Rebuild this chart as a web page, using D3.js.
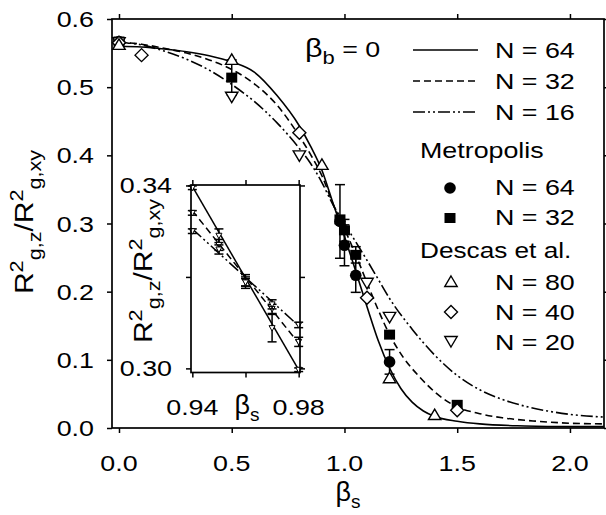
<!DOCTYPE html>
<html><head><meta charset="utf-8">
<script src="https://cdn.jsdelivr.net/npm/d3@7"></script>
<style>body{margin:0;background:#fff}</style>
</head><body><svg id="c" width="606" height="515"></svg>
<script>
// ---------- data ----------
const betaTicks = [0, 0.5, 1.0, 1.5, 2.0];
const yTicks = [0, 0.1, 0.2, 0.3, 0.4, 0.5, 0.6];

const curve64Beta = [0,0.1,0.2,0.3,0.4,0.5,0.6,0.7,0.8,0.85,0.9,0.95,1.0,1.05,1.1,1.15,1.2,1.25,1.3,1.35,1.4,1.5,1.6,1.8,2.0,2.15];
const curve64Val  = [0.560,0.559,0.556,0.552,0.546,0.537,0.522,0.488,0.443,0.413,0.378,0.329,0.281,0.230,0.178,0.128,0.088,0.058,0.038,0.025,0.017,0.010,0.006,0.003,0.002,0.002];
const curve32Beta = [0,0.1,0.2,0.3,0.4,0.5,0.6,0.7,0.8,0.85,0.9,0.95,1.0,1.05,1.1,1.15,1.2,1.26,1.33,1.4,1.5,1.6,1.7,1.85,2.0,2.15];
const curve32Val  = [0.566,0.563,0.557,0.550,0.540,0.526,0.505,0.474,0.428,0.401,0.370,0.328,0.292,0.254,0.213,0.173,0.137,0.104,0.076,0.053,0.031,0.021,0.015,0.010,0.007,0.006];
const curve16Beta = [0,0.1,0.2,0.3,0.4,0.5,0.6,0.7,0.8,0.85,0.9,0.95,1.0,1.05,1.1,1.15,1.2,1.3,1.4,1.5,1.6,1.7,1.8,1.9,2.0,2.15];
const curve16Val  = [0.566,0.562,0.553,0.541,0.525,0.504,0.479,0.448,0.410,0.388,0.360,0.327,0.300,0.273,0.246,0.218,0.190,0.145,0.107,0.077,0.056,0.042,0.032,0.025,0.020,0.016];

const metro64Beta = [0, 0.98, 1.0, 1.05, 1.2];
const metro64Val  = [0.567, 0.303, 0.268, 0.224, 0.097];
const metro64Err  = [0, 0.054, 0.030, 0.025, 0.018];
const metro32Beta = [0, 0.5, 0.98, 1.0, 1.05, 1.2, 1.5];
const metro32Val  = [0.567, 0.514, 0.306, 0.290, 0.254, 0.137, 0.034];
const metro32Err  = [0, 0.026, 0, 0.016, 0.012, 0, 0];
const descas80Beta = [0, 0.5, 0.9, 1.2, 1.4];
const descas80Val  = [0.562, 0.540, 0.386, 0.073, 0.019];
const descas40Beta = [0, 0.1, 0.8, 1.1, 1.5];
const descas40Val  = [0.565, 0.547, 0.433, 0.191, 0.026];
const descas20Beta = [0, 0.5, 0.8, 1.1, 1.2];
const descas20Val  = [0.566, 0.486, 0.400, 0.213, 0.163];

// inset
const insetBetaTicks = [0.94, 0.96, 0.98];
const insetBetaLabels = [0.94, 0.98];
const insetYTicks = [0.30, 0.32, 0.34];
const insetYLabels = [0.30, 0.34];
const insetLineBeta = [0.94, 0.98];
const insetLine64 = [0.3398, 0.2997];
const insetLine32 = [0.3345, 0.3055];
const insetLine16 = [0.3305, 0.3093];
const insetBeta = [0.94, 0.95, 0.96, 0.97, 0.98];
const inset64Val = [0.3395, 0.3290, 0.3190, 0.3088, 0.2997];
const inset64Err = [0.0004, 0.0015, 0.0015, 0.0030, 0.0004];
const inset32Val = [0.3340, 0.3270, 0.3190, 0.3130, 0.3058];
const inset32Err = [0.0005, 0.0012, 0.0010, 0.0010, 0.0010];
const inset16Val = [0.3300, 0.3260, 0.3188, 0.3140, 0.3095];
const inset16Err = [0.0005, 0.0010, 0.0008, 0.0010, 0.0006];

// ---------- drawing ----------
const FONT = "'Liberation Sans', Arial, Helvetica, sans-serif";
const SX = 1.22, FS = 22;
const svg = d3.select('#c');

function label(g, x, y, parts, opts = {}) {
  const fs = opts.fs || FS, sx = opts.sx || SX, anchor = opts.anchor || 'start';
  let tr = `translate(${x},${y})`;
  if (opts.rot) tr += ' rotate(-90)';
  tr += ` scale(${sx},1)`;
  const t = g.append('text').attr('transform', tr).attr('text-anchor', anchor)
    .attr('font-size', fs).attr('font-family', FONT).attr('fill', '#000');
  let shift = 0;
  parts.forEach(p => {
    const [s, kind, sz] = Array.isArray(p) ? p : [p, 'n'];
    let target = 0, size = sz || fs;
    if (kind === 'sub') { target = 0.32 * fs; size = sz || 0.72 * fs; }
    if (kind === 'sup') { target = -0.4 * fs; size = sz || 0.72 * fs; }
    t.append('tspan').attr('dy', target - shift).attr('font-size', size).text(s);
    shift = target;
  });
  return t;
}

// main scales
const x = d3.scaleLinear().domain([-0.031, 2.151]).range([112, 604]);
const y = d3.scaleLinear().domain([0, 0.6]).range([428, 19]);

function axes(g, xs, ys, xt, yt, x0, x1, y0, y1) {
  const mk = (ax, tr) => {
    const a = g.append('g').attr('transform', tr).call(ax);
    a.select('.domain').remove();
    a.selectAll('line').attr('stroke', '#000').attr('stroke-width', 1.5);
    a.selectAll('text').remove();
  };
  mk(d3.axisBottom(xs).tickValues(xt).tickSize(5), `translate(0,${y0})`);
  mk(d3.axisTop(xs).tickValues(xt).tickSize(5), `translate(0,${y1})`);
  mk(d3.axisLeft(ys).tickValues(yt).tickSize(5), `translate(${x0},0)`);
  mk(d3.axisRight(ys).tickValues(yt).tickSize(5), `translate(${x1},0)`);
  g.append('rect').attr('x', x0).attr('y', y1).attr('width', x1 - x0).attr('height', y0 - y1)
    .attr('fill', 'none').attr('stroke', '#000').attr('stroke-width', 1.7);
}

axes(svg, x, y, betaTicks, yTicks, 112, 604, 428, 19);

betaTicks.forEach(v => label(svg, x(v), 471, [d3.format('.1f')(v)], {anchor: 'middle'}));
yTicks.forEach(v => label(svg, 94, y(v) + 8, [d3.format('.1f')(v)], {anchor: 'end'}));

// axis titles
label(svg, 33, 222, ['R', ['2', 'sup'], ['g,z', 'sub'], '/R', ['2', 'sup'], ['g,xy', 'sub']], {rot: true, anchor: 'middle', fs: 25, sx: 1.2});
label(svg, 348, 501, [['β', 'n', 27], ['s', 'sub', 19]], {anchor: 'middle', sx: 1.0});

// curves
svg.append('clipPath').attr('id', 'clipMain').append('rect')
  .attr('x', 112).attr('y', 19).attr('width', 492).attr('height', 409);
const lineGen = (xs, ys) => d3.line().x(d => xs(d[0])).y(d => ys(d[1])).curve(d3.curveMonotoneX);
const zip = (a, b) => a.map((v, i) => [v, b[i]]);
const DASH32 = '7,4', DASH16 = '12,3,2,3,2,3';
const curves = svg.append('g').attr('clip-path', 'url(#clipMain)');
[[curve64Beta, curve64Val, null], [curve32Beta, curve32Val, DASH32], [curve16Beta, curve16Val, DASH16]]
  .forEach(([b, v, dash]) => {
    curves.append('path').attr('d', lineGen(x, y)(zip(b, v))).attr('fill', 'none')
      .attr('stroke', '#000').attr('stroke-width', 1.6).attr('stroke-dasharray', dash);
  });

// markers
const sym = {
  circle: (g, cx, cy) => g.append('circle').attr('cx', cx).attr('cy', cy).attr('r', 5.8).attr('fill', '#000'),
  square: (g, cx, cy) => g.append('rect').attr('x', cx - 5.5).attr('y', cy - 5).attr('width', 11).attr('height', 10).attr('fill', '#000'),
  up: (g, cx, cy) => g.append('path').attr('d', `M${cx},${cy - 6}L${cx + 6.2},${cy + 4.5}L${cx - 6.2},${cy + 4.5}Z`).attr('fill', '#fff').attr('stroke', '#000').attr('stroke-width', 1.4),
  down: (g, cx, cy) => g.append('path').attr('d', `M${cx},${cy + 6}L${cx + 6.2},${cy - 4.5}L${cx - 6.2},${cy - 4.5}Z`).attr('fill', '#fff').attr('stroke', '#000').attr('stroke-width', 1.4),
  diamond: (g, cx, cy) => g.append('path').attr('d', `M${cx},${cy - 6.5}L${cx + 6.5},${cy}L${cx},${cy + 6.5}L${cx - 6.5},${cy}Z`).attr('fill', '#fff').attr('stroke', '#000').attr('stroke-width', 1.4)
};
function errBars(g, xs, ys, b, v, e, cap) {
  b.forEach((bb, i) => {
    if (!e[i]) return;
    const cx = xs(bb), t = ys(v[i] + e[i]), bt = ys(v[i] - e[i]);
    g.append('line').attr('x1', cx).attr('x2', cx).attr('y1', t).attr('y2', bt).attr('stroke', '#000').attr('stroke-width', 1.5);
    [t, bt].forEach(yy => g.append('line').attr('x1', cx - cap).attr('x2', cx + cap).attr('y1', yy).attr('y2', yy).attr('stroke', '#000').attr('stroke-width', 1.5));
  });
}
const mk = svg.append('g');
errBars(mk, x, y, metro32Beta, metro32Val, metro32Err, 5);
errBars(mk, x, y, metro64Beta, metro64Val, metro64Err, 5);
metro32Beta.forEach((b, i) => sym.square(mk, x(b), y(metro32Val[i])));
metro64Beta.forEach((b, i) => sym.circle(mk, x(b), y(metro64Val[i])));
descas20Beta.forEach((b, i) => sym.down(mk, x(b), y(descas20Val[i])));
descas40Beta.forEach((b, i) => sym.diamond(mk, x(b), y(descas40Val[i])));
descas80Beta.forEach((b, i) => sym.up(mk, x(b), y(descas80Val[i])));

// legend
label(svg, 305, 57, [['β', 'n', 25], ['b', 'sub', 18], ' = 0']);
const lg = svg.append('g');
[[null, 50, 'N = 64'], [DASH32, 81, 'N = 32'], [DASH16, 112, 'N = 16']].forEach(([dash, yy, t]) => {
  lg.append('line').attr('x1', 413).attr('x2', 478).attr('y1', yy).attr('y2', yy)
    .attr('stroke', '#000').attr('stroke-width', 1.6).attr('stroke-dasharray', dash);
  label(lg, 495, yy + 8, [t]);
});
label(lg, 420, 158, ['Metropolis']);
sym.circle(lg, 450, 188); label(lg, 495, 195, ['N = 64']);
sym.square(lg, 450, 218); label(lg, 495, 225, ['N = 32']);
label(lg, 420, 258, ['Descas et al.'], {sx: 1.19});
sym.up(lg, 451, 282); label(lg, 495, 290, ['N = 80']);
sym.diamond(lg, 451, 312); label(lg, 495, 320, ['N = 40']);
sym.down(lg, 451, 341); label(lg, 495, 350, ['N = 20']);

// ---------- inset ----------
const xi = d3.scaleLinear().domain([0.9395, 0.9805]).range([191, 300]);
const yi = d3.scaleLinear().domain([0.2991, 0.3401]).range([372.5, 185]);
const ig = svg.append('g');
ig.append('rect').attr('x', 191).attr('y', 185).attr('width', 109).attr('height', 187.5).attr('fill', '#fff');
svg.append('clipPath').attr('id', 'clipIn').append('rect').attr('x', 191).attr('y', 185).attr('width', 109).attr('height', 187.5);
const il = ig.append('g').attr('clip-path', 'url(#clipIn)');
[[insetLine64, null], [insetLine32, DASH32], [insetLine16, DASH16]].forEach(([v, dash]) => {
  il.append('path').attr('d', d3.line().x(d => xi(d[0])).y(d => yi(d[1]))(zip(insetLineBeta, v)))
    .attr('fill', 'none').attr('stroke', '#000').attr('stroke-width', 1.5).attr('stroke-dasharray', dash);
});
const ip = ig.append('g');
[[inset64Val, inset64Err], [inset32Val, inset32Err], [inset16Val, inset16Err]].forEach(([v, e]) => {
  errBars(ip, xi, yi, insetBeta, v, e, 4.5);
  insetBeta.forEach((b, i) => {
    const cx = xi(b), cy = yi(v[i]);
    ip.append('path').attr('d', `M${cx},${cy + 3}L${cx + 3},${cy - 2.5}L${cx - 3},${cy - 2.5}Z`)
      .attr('fill', '#fff').attr('stroke', '#000').attr('stroke-width', 1);
  });
});
axes(ig, xi, yi, insetBetaTicks, insetYTicks, 191, 300, 372.5, 185);
insetBetaLabels.forEach(v => label(ig, xi(v), 415, [d3.format('.2f')(v)], {anchor: 'middle'}));
insetYLabels.forEach(v => label(ig, 172, yi(v) + 8, [d3.format('.2f')(v)], {anchor: 'end'}));
label(ig, 247, 414, [['β', 'n', 27], ['s', 'sub', 19]], {anchor: 'middle', sx: 1.0});
label(ig, 152, 271, ['R', ['2', 'sup'], ['g,z', 'sub'], '/R', ['2', 'sup'], ['g,xy', 'sub']], {rot: true, anchor: 'middle', fs: 25, sx: 1.2});
</script></body></html>
